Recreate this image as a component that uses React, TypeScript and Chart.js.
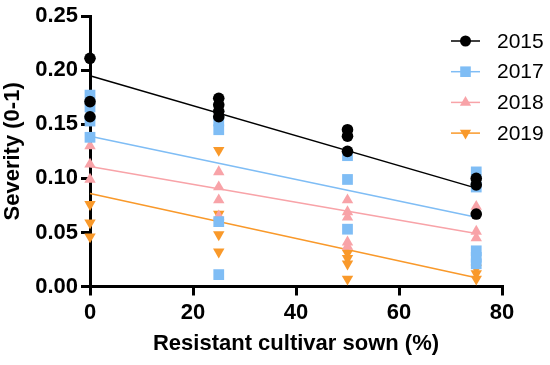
import React, { useEffect, useRef } from "react";
import { Chart, registerables } from "chart.js";

Chart.register(...registerables);

// ---- data ----
const years = ["2015", "2017", "2018", "2019"];
const colors = ["#000000", "#7FBDF5", "#F8A3A8", "#F9992A"];

const x2015 = [0, 0, 0, 25, 25, 25, 25, 50, 50, 50, 75, 75, 75];
const y2015 = [0.211, 0.171, 0.157, 0.174, 0.168, 0.162, 0.157, 0.145, 0.139, 0.125, 0.1, 0.094, 0.067];

const x2017 = [0, 0, 0, 0, 25, 25, 25, 25, 50, 50, 50, 75, 75, 75, 75, 75];
const y2017 = [0.177, 0.166, 0.153, 0.138, 0.153, 0.145, 0.06, 0.011, 0.121, 0.099, 0.053, 0.106, 0.092, 0.033, 0.027, 0.021];

const x2018 = [0, 0, 0, 25, 25, 25, 25, 50, 50, 50, 50, 50, 75, 75, 75];
const y2018 = [0.13, 0.113, 0.099, 0.106, 0.092, 0.08, 0.065, 0.08, 0.069, 0.064, 0.041, 0.037, 0.074, 0.051, 0.045];

const x2019 = [0, 0, 0, 0, 25, 25, 25, 25, 50, 50, 50, 50, 75, 75, 75];
const y2019 = [0.166, 0.076, 0.059, 0.046, 0.126, 0.067, 0.048, 0.032, 0.031, 0.026, 0.021, 0.007, 0.017, 0.012, 0.007];

const fitX = [0, 75];
const fit2015 = [0.195, 0.091];
const fit2017 = [0.139, 0.064];
const fit2018 = [0.111, 0.049];
const fit2019 = [0.086, 0.008];

const xTicks = [0, 20, 40, 60, 80];
const yTicks = [0, 0.05, 0.1, 0.15, 0.2, 0.25];

const pointStyles = ["circle", "rect", "triangle", "triangle"];
const pointRotations = [0, 0, 0, 180];
const pointRadii = [5.8, 7.6, 6.6, 6.6];

const FONT = '"Liberation Sans", Arial, sans-serif';

function pts(xs: number[], ys: number[]) {
  return xs.map((x, i) => ({ x, y: ys[i] }));
}

const legendPlugin = {
  id: "customLegend",
  afterDraw(chart: any) {
    const ctx = chart.ctx;
    ctx.save();
    years.forEach((yr, i) => {
      const y = 41 + i * 30.7;
      const c = colors[i];
      ctx.strokeStyle = c;
      ctx.lineWidth = 1.5;
      ctx.beginPath();
      ctx.moveTo(451, y);
      ctx.lineTo(480, y);
      ctx.stroke();
      const cx = 465.5;
      ctx.fillStyle = c;
      ctx.beginPath();
      if (i === 0) {
        ctx.arc(cx, y, 5.5, 0, Math.PI * 2);
      } else if (i === 1) {
        ctx.rect(cx - 5.3, y - 5.3, 10.6, 10.6);
      } else if (i === 2) {
        ctx.moveTo(cx, y - 6.5);
        ctx.lineTo(cx + 5.6, y + 3.25);
        ctx.lineTo(cx - 5.6, y + 3.25);
        ctx.closePath();
      } else {
        ctx.moveTo(cx, y + 6.5);
        ctx.lineTo(cx + 5.6, y - 3.25);
        ctx.lineTo(cx - 5.6, y - 3.25);
        ctx.closePath();
      }
      ctx.fill();
      ctx.fillStyle = "#000";
      ctx.font = `21px ${FONT}`;
      ctx.textBaseline = "middle";
      ctx.textAlign = "left";
      ctx.fillText(yr, 497, y + 1);
    });
    ctx.restore();
  },
};

export default function App() {
  const ref = useRef<HTMLCanvasElement>(null);
  useEffect(() => {
    if (!ref.current) return;
    const scatterData = [pts(x2015, y2015), pts(x2017, y2017), pts(x2018, y2018), pts(x2019, y2019)];
    const fits = [fit2015, fit2017, fit2018, fit2019];
    const datasets: any[] = [];
    years.forEach((yr, i) => {
      datasets.push({
        label: yr,
        data: scatterData[i],
        showLine: false,
        backgroundColor: colors[i],
        borderColor: colors[i],
        borderWidth: 0,
        pointStyle: pointStyles[i],
        pointRotation: pointRotations[i],
        pointRadius: pointRadii[i],
        pointBorderWidth: 0,
        clip: false,
      });
    });
    years.forEach((yr, i) => {
      datasets.push({
        label: yr + " fit",
        data: pts(fitX, fits[i]),
        showLine: true,
        borderColor: colors[i],
        borderWidth: 1.5,
        pointRadius: 0,
        clip: false,
      });
    });
    const chart = new Chart(ref.current, {
      type: "scatter",
      data: { datasets },
      options: {
        animation: false,
        responsive: false,
        events: [],
        layout: { padding: { top: 12, right: 48, left: 0, bottom: 0 } },
        plugins: { legend: { display: false }, tooltip: { enabled: false } },
        scales: {
          x: {
            type: "linear",
            min: 0,
            max: 80,
            afterBuildTicks: (s: any) => {
              s.ticks = xTicks.map((v) => ({ value: v }));
            },
            afterFit: (s: any) => {
              s.height = 365 - 286.5;
            },
            ticks: {
              color: "#000",
              font: { family: FONT, size: 22, weight: "bold" },
              padding: 4,
              maxRotation: 0,
            },
            grid: {
              drawOnChartArea: false,
              drawTicks: true,
              tickLength: 9,
              color: "#000",
              lineWidth: 3,
            },
            border: { color: "#000", width: 3 },
            title: {
              display: true,
              text: "Resistant cultivar sown (%)",
              color: "#000",
              font: { family: FONT, size: 22, weight: "bold" },
              padding: { top: 0, bottom: 8 },
            },
          },
          y: {
            type: "linear",
            min: 0,
            max: 0.25,
            afterBuildTicks: (s: any) => {
              s.ticks = yTicks.map((v) => ({ value: v }));
            },
            afterFit: (s: any) => {
              s.width = 90;
            },
            ticks: {
              color: "#000",
              font: { family: FONT, size: 22, weight: "bold" },
              padding: 3,
              callback: (v: any) => Number(v).toFixed(2),
            },
            grid: {
              drawOnChartArea: false,
              drawTicks: true,
              tickLength: 9,
              color: "#000",
              lineWidth: 3,
            },
            border: { color: "#000", width: 3 },
            title: {
              display: true,
              text: "Severity (0-1)",
              color: "#000",
              font: { family: FONT, size: 22, weight: "bold" },
              padding: { top: 0, bottom: 0 },
            },
          },
        },
      },
      plugins: [legendPlugin],
    });
    return () => chart.destroy();
  }, []);
  return (
    <div style={{ position: "absolute", left: 0, top: 0, width: 550, height: 365, background: "#fff" }}>
      <canvas ref={ref} width={550} height={365} />
    </div>
  );
}
